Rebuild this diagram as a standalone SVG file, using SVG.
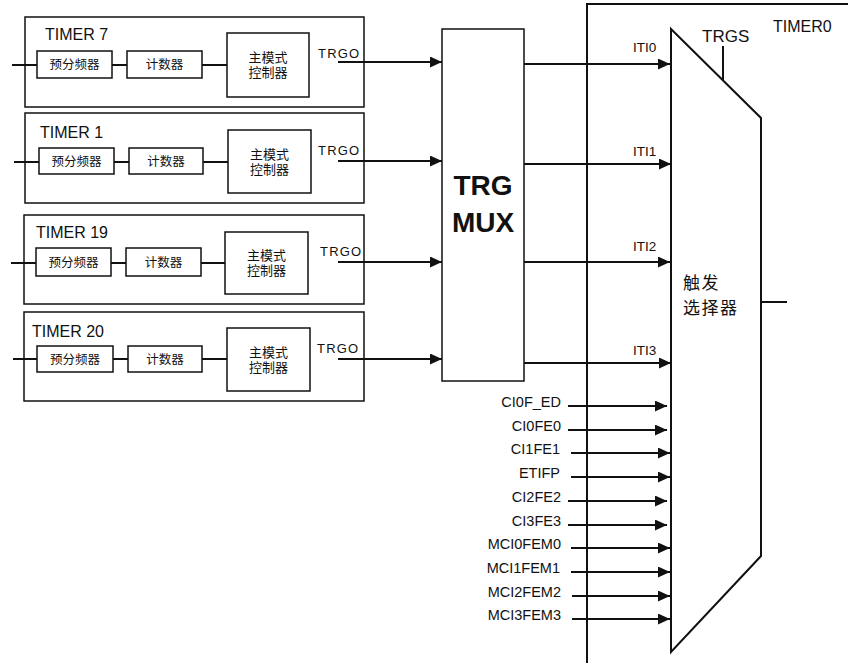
<svg xmlns="http://www.w3.org/2000/svg" width="848" height="663" viewBox="0 0 848 663">
<style>
text{font-family:"Liberation Sans","Noto Sans CJK SC",Arial,sans-serif;fill:#111}
.box{fill:#fff;stroke:#111;stroke-width:1.5}
.ln{fill:none;stroke:#111;stroke-width:2}
.ar{fill:none;stroke:#111;stroke-width:2;marker-end:url(#ah)}
.tl{font-size:16px}
.cn{font-size:12.5px;text-anchor:middle}
.cm{font-size:13px;text-anchor:middle}
.trgo{font-size:13px;letter-spacing:1.2px}
.sig{font-size:13.5px}
.in{font-size:14.5px;text-anchor:end}
.big{font-size:28px;font-weight:bold;text-anchor:middle}
</style>
<defs>
<marker id="ah" markerUnits="userSpaceOnUse" markerWidth="13" markerHeight="12" refX="12" refY="5.5" orient="auto">
<path d="M0,0 L12,5.5 L0,11 z" fill="#111"/>
</marker>
</defs>
<rect width="848" height="663" fill="#fff"/>

<g id="timer0">
<path class="ln" d="M848,4 H587 V663" stroke-width="1.5"/>
<text class="tl" x="773" y="32">TIMER0</text>
</g>

<g id="timer7">
<rect class="box" x="25" y="17" width="339" height="90"/>
<text class="tl" x="45" y="40">TIMER 7</text>
<rect class="box" x="37" y="51" width="75" height="27"/>
<text class="cn" x="74.5" y="69">预分频器</text>
<rect class="box" x="127" y="51" width="75" height="27"/>
<text class="cn" x="164.5" y="69">计数器</text>
<rect class="box" x="227" y="33" width="82" height="64"/>
<text class="cm" x="268" y="62">主模式</text>
<text class="cm" x="268" y="77">控制器</text>
<path class="ln" d="M12,65 H37 M112,65 H127 M202,65 H227"/>
<text class="trgo" x="318" y="58">TRGO</text>
</g>

<g id="timer1">
<rect class="box" x="25" y="113" width="339" height="90"/>
<text class="tl" x="40" y="138">TIMER 1</text>
<rect class="box" x="39" y="148" width="75" height="26"/>
<text class="cn" x="76.5" y="166">预分频器</text>
<rect class="box" x="129" y="148" width="74" height="26"/>
<text class="cn" x="166" y="166">计数器</text>
<rect class="box" x="228" y="130" width="83" height="63"/>
<text class="cm" x="269.5" y="159">主模式</text>
<text class="cm" x="269.5" y="174">控制器</text>
<path class="ln" d="M14,162 H39 M114,162 H129 M203,162 H228"/>
<text class="trgo" x="318" y="155">TRGO</text>
</g>

<g id="timer19">
<rect class="box" x="24" y="215" width="340" height="89"/>
<text class="tl" x="36" y="238">TIMER 19</text>
<rect class="box" x="36" y="248" width="75" height="28"/>
<text class="cn" x="73.5" y="267">预分频器</text>
<rect class="box" x="126" y="248" width="75" height="28"/>
<text class="cn" x="163.5" y="267">计数器</text>
<rect class="box" x="225" y="232" width="83" height="62"/>
<text class="cm" x="266.5" y="260">主模式</text>
<text class="cm" x="266.5" y="275">控制器</text>
<path class="ln" d="M11,263 H36 M111,263 H126 M201,263 H225"/>
<text class="trgo" x="320" y="256">TRGO</text>
</g>

<g id="timer20">
<rect class="box" x="24" y="312" width="340" height="89"/>
<text class="tl" x="32" y="337">TIMER 20</text>
<rect class="box" x="37" y="346" width="76" height="26"/>
<text class="cn" x="75" y="364">预分频器</text>
<rect class="box" x="128" y="346" width="74" height="26"/>
<text class="cn" x="165" y="364">计数器</text>
<rect class="box" x="227" y="328" width="83" height="63"/>
<text class="cm" x="268.5" y="357">主模式</text>
<text class="cm" x="268.5" y="372">控制器</text>
<path class="ln" d="M13,359 H37 M113,359 H128 M202,359 H227"/>
<text class="trgo" x="317" y="353">TRGO</text>
</g>

<g id="trgmux">
<rect class="box" x="442" y="29" width="82" height="352"/>
<text class="big" x="483" y="195">TRG</text>
<text class="big" x="483" y="232">MUX</text>
</g>

<g id="trigger-selector">
<path class="ln" d="M671,29 L761,118 V556 L671,652 Z" fill="#fff"/>
<text x="683" y="289" style="font-size:17px;letter-spacing:1.5px">触发</text>
<text x="683" y="314" style="font-size:17px;letter-spacing:1.5px">选择器</text>
<text x="702" y="42" style="font-size:17px">TRGS</text>
</g>

<g id="connectors">
<path class="ar" d="M338,62 H442"/>
<path class="ar" d="M338,161 H442"/>
<path class="ar" d="M338,262 H442"/>
<path class="ar" d="M338,359 H442"/>
<path class="ar" d="M524,64 H670"/>
<path class="ar" d="M524,164 H671"/>
<path class="ar" d="M524,262 H670"/>
<path class="ar" d="M524,363 H671"/>
<path class="ln" d="M723,46 V80"/>
<path class="ln" d="M761,302 H787"/>
<path class="ar" d="M568,406 H667"/>
<path class="ar" d="M568,430 H667"/>
<path class="ar" d="M571,453 H670"/>
<path class="ar" d="M571,477 H670"/>
<path class="ar" d="M568,501 H667"/>
<path class="ar" d="M568,525 H667"/>
<path class="ar" d="M571,548 H670"/>
<path class="ar" d="M571,572 H670"/>
<path class="ar" d="M572,596 H670"/>
<path class="ar" d="M572,619 H670"/>
</g>

<g id="labels">
<text class="sig" x="633" y="52">ITI0</text>
<text class="sig" x="633" y="156">ITI1</text>
<text class="sig" x="633" y="251">ITI2</text>
<text class="sig" x="633" y="355">ITI3</text>
<text class="in" x="561" y="407">CI0F_ED</text>
<text class="in" x="561" y="431">CI0FE0</text>
<text class="in" x="560" y="454">CI1FE1</text>
<text class="in" x="560" y="478">ETIFP</text>
<text class="in" x="561" y="502">CI2FE2</text>
<text class="in" x="561" y="526">CI3FE3</text>
<text class="in" x="561" y="549">MCI0FEM0</text>
<text class="in" x="560" y="573">MCI1FEM1</text>
<text class="in" x="561" y="597">MCI2FEM2</text>
<text class="in" x="561" y="620">MCI3FEM3</text>
</g>
</svg>
